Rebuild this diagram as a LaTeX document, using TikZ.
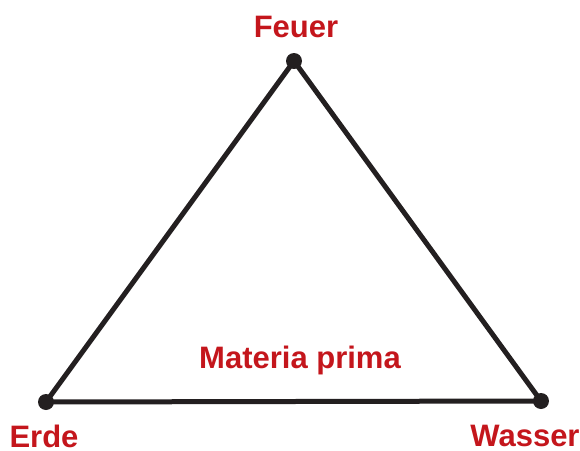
\documentclass[tikz,border=0pt]{standalone}
\usepackage{fontspec}
\setmainfont{Liberation Sans}
\definecolor{elemred}{HTML}{C4161C}
\definecolor{linegray}{HTML}{231F20}
\tikzset{
  elem/.style={text=elemred,font=\bfseries\fontsize{15.5}{18}\selectfont,anchor=base,inner sep=0pt},
  corner/.style={circle,fill=linegray,inner sep=0pt,minimum size=8pt}
}
\begin{document}
\begin{tikzpicture}[x=0.5pt,y=-0.5pt]
\useasboundingbox (0,0) rectangle (580,451);
% Ecken
\node[corner] (feuer) at (294,61) {};
\node[corner] (erde) at (46,402) {};
\node[corner] (wasser) at (541,401) {};
\draw [linegray,line width=2.5pt,line join=round] (feuer.center) -- (wasser.center) -- (erde.center) -- cycle;
% Beschriftung
\node[elem] (lfeuer) at (296,37) {Feuer};
\node[elem] (lerde) at (44,447) {Erde};
\node[elem] (lwasser) at (525,446) {Wasser};
\node[elem] (lmateria) at (300,368) {Materia prima};
\end{tikzpicture}
\end{document}
